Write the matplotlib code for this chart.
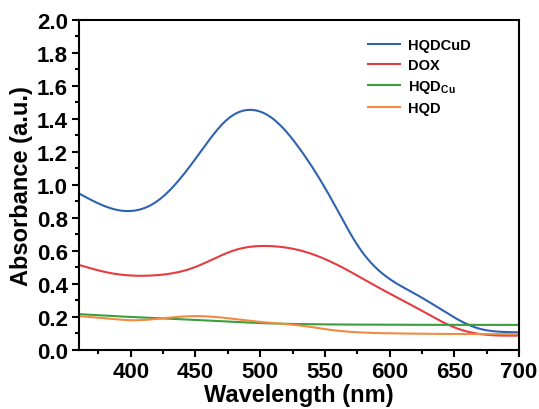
import numpy as np
import matplotlib
matplotlib.use("Agg")
import matplotlib.pyplot as plt
from matplotlib.ticker import MultipleLocator, FormatStrFormatter

plt.rcParams['font.family'] = ['Liberation Sans', 'DejaVu Sans']
plt.rcParams['font.weight'] = 'bold'
plt.rcParams['mathtext.fontset'] = 'custom'
plt.rcParams['mathtext.rm'] = 'Liberation Sans:bold'
plt.rcParams['mathtext.bf'] = 'Liberation Sans:bold'

# Absorption spectra (wavelength in nm, absorbance in a.u.)
wl_hqdcud = [360, 392, 421, 452, 475, 492, 510, 530, 556, 576, 600, 622, 645, 668,
             684, 700]
abs_hqdcud = [0.948, 0.845, 0.905, 1.18, 1.40, 1.455, 1.40, 1.225, 0.90, 0.625, 0.43,
              0.33, 0.22, 0.132, 0.111, 0.107]

wl_dox = [360, 385, 418, 449, 480, 511, 530, 561, 591, 622, 653, 675, 700]
abs_dox = [0.515, 0.465, 0.452, 0.50, 0.604, 0.628, 0.605, 0.51, 0.38, 0.25, 0.128,
           0.092, 0.087]

wl_hqdcu = [360, 400, 445, 500, 550, 600, 650, 700]
abs_hqdcu = [0.217, 0.200, 0.184, 0.163, 0.155, 0.153, 0.152, 0.152]

wl_hqd = [360, 380, 403, 426, 449, 472, 495, 518, 534, 553, 576, 607, 645, 684, 700]
abs_hqd = [0.205, 0.192, 0.180, 0.193, 0.205, 0.195, 0.174, 0.158, 0.145, 0.123,
           0.107, 0.100, 0.097, 0.096, 0.095]

series = [
    ("HQDCuD", wl_hqdcud, abs_hqdcud, "#2f63b0"),
    ("DOX", wl_dox, abs_dox, "#e63b3f"),
    (r"HQD$_{\mathbf{Cu}}$", wl_hqdcu, abs_hqdcu, "#3a9e3c"),
    ("HQD", wl_hqd, abs_hqd, "#f18a42"),
]


def smooth(x, y, n=500):
    """Natural cubic spline through the measured points."""
    x = np.asarray(x, float)
    y = np.asarray(y, float)
    k = len(x)
    h = np.diff(x)
    A = np.zeros((k, k))
    b = np.zeros(k)
    A[0, 0] = A[-1, -1] = 1.0
    for i in range(1, k - 1):
        A[i, i - 1] = h[i - 1]
        A[i, i] = 2 * (h[i - 1] + h[i])
        A[i, i + 1] = h[i]
        b[i] = 6 * ((y[i + 1] - y[i]) / h[i] - (y[i] - y[i - 1]) / h[i - 1])
    M = np.linalg.solve(A, b)
    xs = np.linspace(x[0], x[-1], n)
    idx = np.clip(np.searchsorted(x, xs) - 1, 0, k - 2)
    hi = h[idx]
    a = x[idx + 1] - xs
    c = xs - x[idx]
    ys = (M[idx] * a**3 / (6 * hi) + M[idx + 1] * c**3 / (6 * hi)
          + (y[idx] / hi - M[idx] * hi / 6) * a
          + (y[idx + 1] / hi - M[idx + 1] * hi / 6) * c)
    return xs, ys


fig = plt.figure(figsize=(5.39, 4.10), dpi=100)
ax = fig.add_axes([0.1466, 0.144, 0.8164, 0.805])

for label, x, y, color in series:
    xs, ys = smooth(x, y)
    ax.plot(xs, ys, color=color, lw=1.5, label=label)

ax.set_xlim(360, 700)
ax.set_ylim(0.0, 2.0)
ax.xaxis.set_major_locator(MultipleLocator(50))
ax.xaxis.set_minor_locator(MultipleLocator(25))
ax.yaxis.set_major_locator(MultipleLocator(0.2))
ax.yaxis.set_minor_locator(MultipleLocator(0.1))
ax.yaxis.set_major_formatter(FormatStrFormatter('%.1f'))

ax.tick_params(which='both', direction='out', width=1.5, top=False, right=False)
ax.tick_params(which='major', length=5, labelsize=16, pad=3)
ax.tick_params(which='minor', length=3)
for lbl in ax.get_xticklabels() + ax.get_yticklabels():
    lbl.set_fontweight('bold')
for sp in ax.spines.values():
    sp.set_linewidth(1.5)

ax.set_xlabel("Wavelength (nm)", fontsize=17, fontweight='bold', labelpad=1)
ax.set_ylabel("Absorbance (a.u.)", fontsize=17, fontweight='bold', labelpad=3)

leg = ax.legend(loc='upper left', bbox_to_anchor=(0.657, 0.946), frameon=False,
                fontsize=10.5, handlelength=2.2, handletextpad=0.55,
                labelspacing=0.42, borderpad=0, borderaxespad=0)
for t in leg.get_texts():
    t.set_fontweight('bold')

fig.savefig("out.png", dpi=100)
